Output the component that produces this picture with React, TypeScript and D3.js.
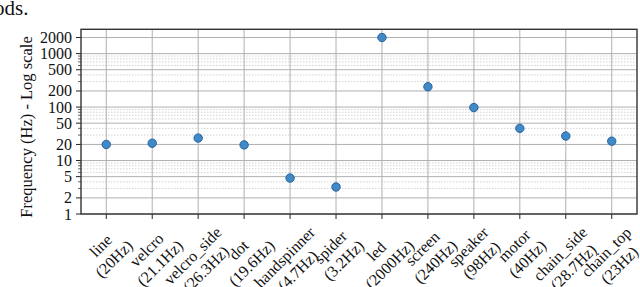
import React from "react";
import * as d3 from "d3";

const categories = ["line", "velcro", "velcro_side", "dot", "handspinner", "spider", "led", "screen", "speaker", "motor", "chain_side", "chain_top"];
const freqLabels = ["(20Hz)", "(21.1Hz)", "(26.3Hz)", "(19.6Hz)", "(4.7Hz)", "(3.2Hz)", "(2000Hz)", "(240Hz)", "(98Hz)", "(40Hz)", "(28.7Hz)", "(23Hz)"];
const frequencies = [20, 21.1, 26.3, 19.6, 4.7, 3.2, 2000, 240, 98, 40, 28.7, 23];
const yTicks = [1, 2, 5, 10, 20, 50, 100, 200, 500, 1000, 2000];
const yMinorTicks = [3, 4, 6, 7, 8, 9, 30, 40, 60, 70, 80, 90, 300, 400, 600, 700, 800, 900];

const W = 640;
const H = 287;
const L = 81, R = 637, T = 29.3, B = 214;
const FONT = "Liberation Serif";

// Times-compatible advance widths (per em) for measuring labels
const CW: Record<string, number> = {
  a: 0.444, b: 0.5, c: 0.444, d: 0.5, e: 0.444, f: 0.333, g: 0.5, h: 0.5, i: 0.278, j: 0.278, k: 0.5, l: 0.278, m: 0.778,
  n: 0.5, o: 0.5, p: 0.5, q: 0.5, r: 0.333, s: 0.389, t: 0.278, u: 0.5, v: 0.5, w: 0.722, x: 0.5, y: 0.5, z: 0.444,
  H: 0.722, "(": 0.333, ")": 0.333, ".": 0.25, _: 0.5,
};
const textWidth = (s: string, size: number) =>
  s.split("").reduce((acc, ch) => acc + (CW[ch] ?? 0.5), 0) * size;

export default function App() {
  const x = d3.scaleLinear().domain([-0.55, 11.55]).range([L, R]);
  const y = d3.scaleLog().domain([1, 2850]).range([B, T]);
  const fs = 16;
  const lineH = 18.7;

  return (
    <svg width={W} height={H} style={{ position: "absolute", left: 0, top: 0 }}>
      <text x={-6} y={15} fill="#111" fontSize={21} style={{ fontFamily: FONT }}>ods.</text>

      {yMinorTicks.map((d) => (
        <line key={`mg${d}`} x1={L} x2={R} y1={y(d)} y2={y(d)} stroke="#c8c8c8" strokeWidth={0.8} strokeDasharray="1.5,1.5" />
      ))}
      {yTicks.map((d) => (
        <line key={`g${d}`} x1={L} x2={R} y1={y(d)} y2={y(d)} stroke="#b0b0b0" strokeWidth={1} />
      ))}
      {categories.map((c, i) => (
        <line key={`vg${c}`} x1={x(i)} x2={x(i)} y1={T} y2={B} stroke="#b0b0b0" strokeWidth={1} />
      ))}

      {yTicks.map((d) => (
        <line key={`yt${d}`} x1={L - 5} x2={L} y1={y(d)} y2={y(d)} stroke="#222" strokeWidth={1} />
      ))}
      {yTicks.map((d) => (
        <text key={`yl${d}`} x={L - 9} y={y(d) + 5.5} textAnchor="end" fill="#111" fontSize={fs} style={{ fontFamily: FONT }}>{String(d)}</text>
      ))}
      {yMinorTicks.map((d) => (
        <line key={`ymt${d}`} x1={L - 3} x2={L} y1={y(d)} y2={y(d)} stroke="#222" strokeWidth={0.7} />
      ))}

      {categories.map((c, i) => (
        <line key={`xt${c}`} x1={x(i)} x2={x(i)} y1={B} y2={B + 5} stroke="#222" strokeWidth={1} />
      ))}

      <rect x={L} y={T} width={R - L} height={B - T} fill="none" stroke="#333" strokeWidth={1.4} />

      {frequencies.map((f, i) => (
        <circle key={`p${i}`} cx={x(i)} cy={y(f)} r={4.2} fill="#4189c7" stroke="#22649f" strokeWidth={1} />
      ))}

      {categories.map((c, i) => {
        const w = Math.max(textWidth(c, fs), textWidth(freqLabels[i], fs));
        const half = (w + lineH * 2) / (2 * Math.SQRT2);
        const cx = x(i) + 1;
        const cy = B + 9 + half;
        return (
          <g key={`xl${c}`} transform={`translate(${cx},${cy}) rotate(-45)`}>
            <text x={0} y={-lineH / 2 + 5.5} textAnchor="middle" fill="#111" fontSize={fs} style={{ fontFamily: FONT }}>{c}</text>
            <text x={0} y={lineH / 2 + 5.5} textAnchor="middle" fill="#111" fontSize={fs} style={{ fontFamily: FONT }}>{freqLabels[i]}</text>
          </g>
        );
      })}

      <text transform="translate(32,127) rotate(-90)" textAnchor="middle" fill="#111" fontSize={16.5} style={{ fontFamily: FONT }}>
        Frequency (Hz) - Log scale
      </text>
    </svg>
  );
}
